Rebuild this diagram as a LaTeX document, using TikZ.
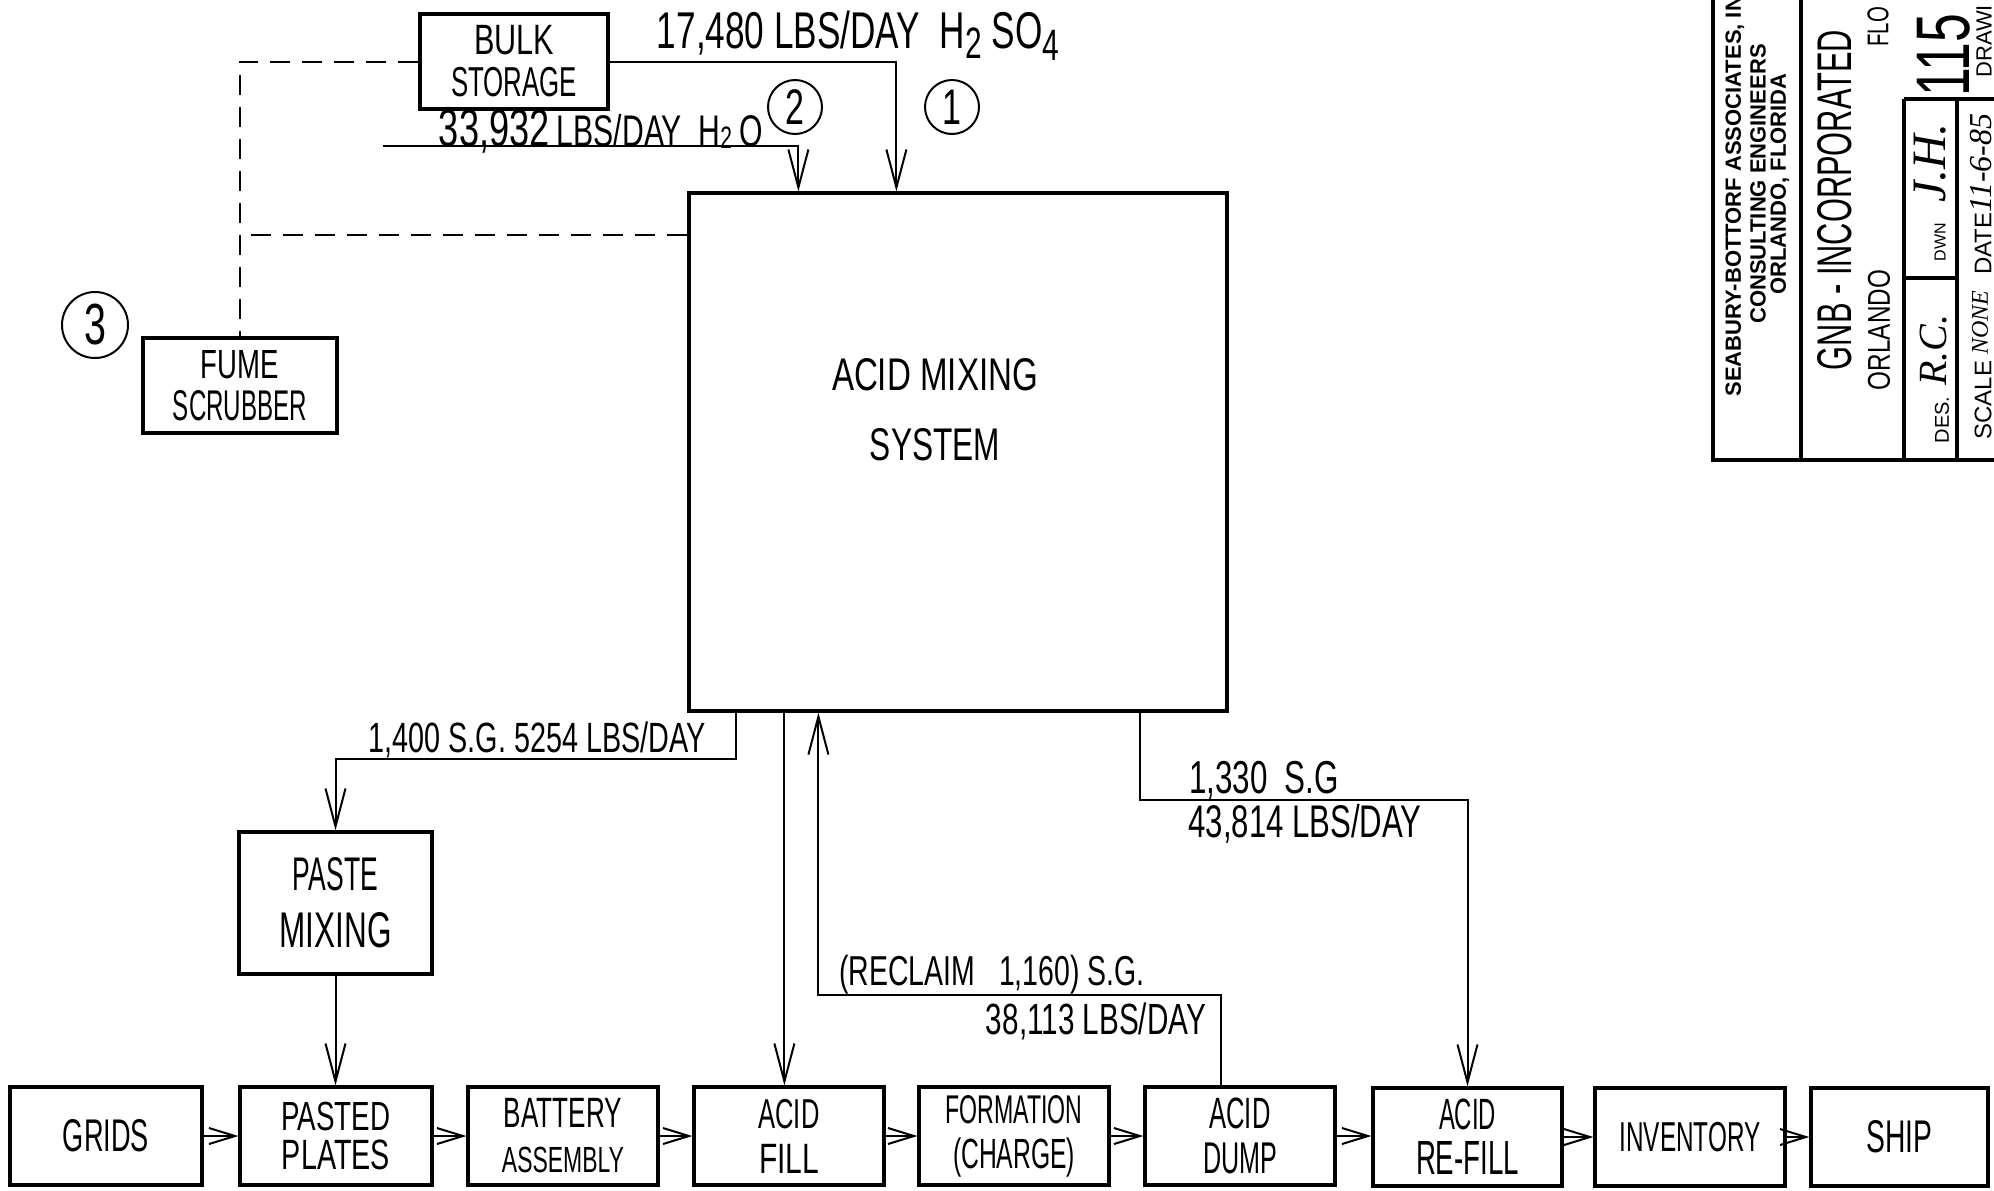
\documentclass[tikz,border=0pt]{standalone}
\usepackage{graphicx}
\usepackage{fontspec}
\setmainfont{Liberation Sans}
\newfontfamily\hand[FakeStretch=0.68]{Liberation Sans}
\newfontfamily\helv{Liberation Sans}
\newfontfamily\scrip{Liberation Serif}
\usetikzlibrary{arrows.meta}
\newcommand{\fitw}[2]{\resizebox{#1}{!}{#2}}
\newcommand{\fitwh}[3]{\resizebox{#1}{#2}{#3}}
\begin{document}
\begin{tikzpicture}[x=0.5pt,y=-0.5pt,
  box/.style={draw, line width=1.6pt, inner sep=0pt, align=center, font=\hand},
  conn/.style={line width=1pt},
  arr/.style={-{Straight Barb[length=19pt,width=10pt]}},
  harr/.style={-{Straight Barb[length=13pt,width=8pt]}},
  dsh/.style={line width=1pt, dash pattern=on 10pt off 6pt},
  lbl/.style={inner sep=0pt, font=\hand, align=center},
  num/.style={draw, circle, line width=1pt, inner sep=0pt, font=\hand\fontsize{25}{25}\selectfont},
  tb/.style={line width=1.8pt},
  tbt/.style={rotate=90, inner sep=0pt}
]
\useasboundingbox (0,0) rectangle (1994,1190);
\clip (0,0) rectangle (1994,1190);

% ---- main boxes
\node[box, minimum width=94pt, minimum height=47.5pt, font=\hand\fontsize{10}{21}\selectfont] (bulk) at (514,61.5) {\fitwh{40pt}{14.6pt}{BULK}\\\fitwh{63pt}{14.6pt}{STORAGE}};
\node[box, minimum width=269pt, minimum height=259pt] (mix) at (958,452) {};
\node[lbl, font=\hand\fontsize{10}{35}\selectfont] (mixt) at (935,410) {\fitwh{103pt}{16pt}{ACID MIXING}\\\fitwh{65pt}{16pt}{SYSTEM}};
\node[box, minimum width=97pt, minimum height=47.5pt, font=\hand\fontsize{10}{21}\selectfont] (fume) at (240,385.5) {\fitwh{39pt}{14pt}{FUME}\\\fitwh{67pt}{15pt}{SCRUBBER}};
\node[box, minimum width=96.5pt, minimum height=71pt, font=\hand\fontsize{10}{28.5}\selectfont] (paste) at (335.5,903) {\fitwh{42.5pt}{16.5pt}{PASTE}\\\fitwh{56pt}{17.5pt}{MIXING}};

% ---- circled numbers
\node[num, minimum size=27pt] (c1) at (952,107) {1};
\node[num, minimum size=27pt] (c2) at (795,107) {2};
\node[num, minimum size=33pt, font=\hand\fontsize{29}{29}\selectfont] (c3) at (95,325) {3};

% ---- bottom row
\node[box, minimum width=96pt, minimum height=49pt] (grids) at (106,1136) {\fitwh{43pt}{16pt}{GRIDS}};
\node[box, minimum width=96pt, minimum height=49pt, font=\hand\fontsize{10}{19.5}\selectfont] (pasted) at (336,1136) {\fitwh{54.5pt}{14.2pt}{PASTED}\\\fitwh{54pt}{14.8pt}{PLATES}};
\node[box, minimum width=95pt, minimum height=49pt, font=\hand\fontsize{10}{22.5}\selectfont] (battery) at (563,1136) {\fitwh{59pt}{14.6pt}{BATTERY}\\\fitwh{61pt}{12.7pt}{ASSEMBLY}};
\node[box, minimum width=95pt, minimum height=49pt, font=\hand\fontsize{10}{22.5}\selectfont] (fill) at (789,1136) {\fitwh{30.5pt}{14.6pt}{ACID}\\\fitwh{30pt}{14.6pt}{FILL}};
\node[box, minimum width=95pt, minimum height=49pt, font=\hand\fontsize{10}{22.5}\selectfont] (formation) at (1014,1136) {\fitwh{68.5pt}{14pt}{FORMATION}\\\fitwh{61pt}{15.3pt}{(CHARGE)}};
\node[box, minimum width=95pt, minimum height=49pt, font=\hand\fontsize{10}{22.5}\selectfont] (dump) at (1240,1136) {\fitwh{30.5pt}{15.3pt}{ACID}\\\fitwh{37pt}{15.3pt}{DUMP}};
\node[box, minimum width=94.5pt, minimum height=49pt, font=\hand\fontsize{10}{22.5}\selectfont] (refill) at (1467.5,1137) {\fitwh{28.5pt}{15.3pt}{ACID}\\\fitwh{51.5pt}{16.5pt}{RE-FILL}};
\node[box, minimum width=95pt, minimum height=49pt] (inventory) at (1690,1137) {\fitwh{70.5pt}{14.6pt}{INVENTORY}};
\node[box, minimum width=88.5pt, minimum height=49pt] (ship) at (1899.5,1137) {\fitwh{33pt}{16pt}{SHIP}};

% ---- labels
\node[lbl] (l1) at (858,36) {\fitw{201pt}{17,480 LBS/DAY\ \ H\raisebox{-0.35ex}{\scalebox{0.85}{2}} SO\raisebox{-0.45ex}{\scalebox{0.85}{4}}}};
\node[lbl] (l2) at (601,131) {\fitw{162pt}{\scalebox{1.2}{33,932}\,LBS/DAY\ \ H\raisebox{-0.1ex}{\scalebox{0.7}{2}}\,O}};
\node[lbl] (l3) at (537,740) {\fitw{168.5pt}{1,400 S.G. 5254 LBS/DAY}};
\node[lbl] (l4) at (992,975) {\fitw{152.5pt}{(RECLAIM\ \ \ 1,160) S.G.}};
\node[lbl] (l5) at (1096,1021) {\fitw{110pt}{38,113 LBS/DAY}};
\node[lbl] (l6) at (1264,780) {\fitw{75pt}{1,330\ \ S.G}};
\node[lbl] (l7) at (1305,824) {\fitw{116.5pt}{43,814 LBS/DAY}};

% ---- helper coordinates
\coordinate (h2o) at (383,146);
\coordinate (ya) at (0,759);
\coordinate (yb) at (0,995);
\coordinate (yc) at (0,800);
\coordinate (mw) at ([yshift=-22pt]mix.north west);
\coordinate (af) at ([xshift=48.5pt]mix.south west);
\coordinate (rc) at ([xshift=65.5pt]mix.south west);
\coordinate (rt) at ([xshift=226.5pt]mix.south west);

% ---- connectors
\draw[conn,arr] (bulk.east) -| ([xshift=104.5pt]mix.north west);
\draw[conn,arr] (h2o) -| ([xshift=55.5pt]mix.north west);
\draw[dsh] (bulk.west) -| (fume.north);
\draw[dsh] (mw) -- (mw -| fume.north);
\draw[conn,arr] ([xshift=24.5pt]mix.south west) |- (ya -| paste.north) -- (paste.north);
\draw[conn,arr] (paste.south) -- (paste.south |- pasted.north);
\draw[conn,arr] (af) -- (af |- fill.north);
\draw[conn,arr] ([xshift=39pt]dump.north west) |- (yb -| rc) -- (rc);
\draw[conn,arr] (rt) |- (yc -| refill.north) -- (refill.north);
\foreach \a/\b in {grids/pasted, pasted/battery, battery/fill, fill/formation, formation/dump, dump/refill, refill/inventory, inventory/ship}
  \draw[conn,harr] (\a.east) -- (\a.east -| \b.west);

% ---- title block
\draw[tb] (1713,0) -- (1713,460) -- (1994,460);
\draw[tb] (1801,0) -- (1801,460);
\draw[tb] (1904,99) -- (1994,99);
\draw[tb] (1904,99) -- (1904,460);
\draw[tb] (1957,99) -- (1957,460);
\draw[tb] (1904,278) -- (1957,278);

\node[tbt, anchor=west, font=\helv\bfseries\fontsize{11}{11}\selectfont] (co1) at (1735,397) {SEABURY-BOTTORF ASSOCIATES, IN};
\node[tbt, font=\helv\bfseries\fontsize{11}{11}\selectfont] (co2) at (1758,184) {CONSULTING ENGINEERS};
\node[tbt, font=\helv\bfseries\fontsize{11}{11}\selectfont] (co3) at (1780,184) {ORLANDO, FLORIDA};
\node[tbt, font=\hand] (gnb) at (1835,200) {\fitwh{170pt}{17pt}{GNB - INCORPORATED}};
\node[tbt, font=\hand] (orl) at (1879,330) {\fitwh{60pt}{11pt}{ORLANDO}};
\node[tbt, anchor=west, font=\hand\fontsize{15}{15}\selectfont] (flo) at (1878,47) {FLO};
\node[tbt, anchor=west, font=\hand\fontsize{38}{38}\selectfont] (dno) at (1944,97) {115};
\node[tbt, anchor=west, font=\helv\fontsize{11}{11}\selectfont] (dwg) at (1984,78) {DRAWI};
\node[tbt, font=\helv\fontsize{10}{10}\selectfont] (des) at (1942,420) {DES.};
\node[tbt, font=\scrip\itshape\fontsize{20}{20}\selectfont] (desv) at (1934,350) {R.C.};
\node[tbt, font=\helv\fontsize{8}{8}\selectfont] (dwn) at (1940,242) {DWN};
\node[tbt, font=\scrip\itshape\fontsize{24}{24}\selectfont] (dwnv) at (1930,163) {J.H.};
\node[tbt, anchor=west, font=\helv\fontsize{12}{12}\selectfont] (scl) at (1983,440) {SCALE};
\node[tbt, anchor=west, font=\scrip\itshape\fontsize{12}{12}\selectfont] (sclv) at (1980,355) {NONE};
\node[tbt, anchor=west, font=\helv\fontsize{12}{12}\selectfont] (dat) at (1983,275) {DATE};
\node[tbt, anchor=west, font=\scrip\itshape\fontsize{16}{16}\selectfont] (datv) at (1981,213) {11-6-85};
\end{tikzpicture}
\end{document}
